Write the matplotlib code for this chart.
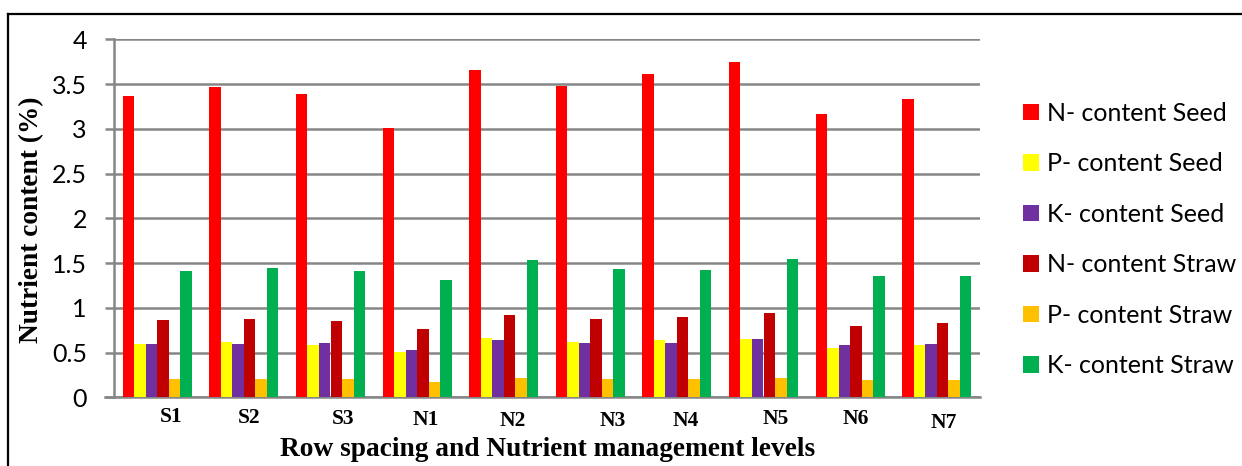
import matplotlib
matplotlib.use("Agg")
import matplotlib.pyplot as plt
import numpy as np
from matplotlib.lines import Line2D
from matplotlib.transforms import blended_transform_factory

# Treatments: row spacing (S) and nutrient management levels (N)
categories = ["S1", "S2", "S3", "N1", "N2", "N3", "N4", "N5", "N6", "N7"]

series_names = [
    "N- content Seed",
    "P- content Seed",
    "K- content Seed",
    "N- content Straw",
    "P- content Straw",
    "K- content Straw",
]

n_seed = [3.37, 3.47, 3.39, 3.01, 3.66, 3.48, 3.61, 3.75, 3.16, 3.33]
p_seed = [0.60, 0.62, 0.58, 0.51, 0.66, 0.62, 0.64, 0.65, 0.55, 0.58]
k_seed = [0.60, 0.60, 0.61, 0.53, 0.64, 0.61, 0.61, 0.65, 0.58, 0.59]
n_straw = [0.86, 0.87, 0.85, 0.76, 0.92, 0.88, 0.90, 0.94, 0.80, 0.83]
p_straw = [0.20, 0.21, 0.20, 0.17, 0.22, 0.20, 0.21, 0.22, 0.19, 0.19]
k_straw = [1.41, 1.45, 1.41, 1.31, 1.53, 1.43, 1.42, 1.55, 1.36, 1.36]

y_ticks = [0, 0.5, 1, 1.5, 2, 2.5, 3, 3.5, 4]
y_tick_labels = ["0", "0.5", "1", "1.5", "2", "2.5", "3", "3.5", "4"]

colors = ["#FF0000", "#FFFF00", "#7030A0", "#C00000", "#FFC000", "#00B050"]

# Hand-placed category labels: horizontal shift (data units) and drop below axis (px)
label_dx = [0.16, 0.06, 0.14, 0.10, 0.10, 0.26, 0.10, 0.14, 0.06, 0.08]
label_drop = [20, 21, 22, 23, 24, 24, 24, 22, 22, 26]

W, H = 1242, 466
fig = plt.figure(figsize=(W / 100, H / 100), dpi=100)
ax = fig.add_axes([114 / W, 1 - 397.3 / H, (980 - 114) / W, (397.3 - 39.3) / H])

values = [n_seed, p_seed, k_seed, n_straw, p_straw, k_straw]
x = np.arange(len(categories)) + 0.5
bw = 0.797 / 6
handles = []
for k, (vals, col, name) in enumerate(zip(values, colors, series_names)):
    b = ax.bar(x + (k - 2.5) * bw, vals, width=bw, color=col, edgecolor="none",
               label=name, zorder=3)
    handles.append(b)

ax.set_xlim(0, len(categories))
ax.set_ylim(0, 4)

grid_col = "#868686"
lw = 1.8
ax.set_yticks(y_ticks)
ax.set_yticklabels(y_tick_labels, fontfamily="Lato", fontsize=18)
ax.yaxis.grid(True, color=grid_col, linewidth=lw, zorder=0)
ax.set_axisbelow(True)
ax.tick_params(axis="y", length=6.5, width=lw, color=grid_col, pad=13)
ax.set_xticks([])
for s in ["top", "right"]:
    ax.spines[s].set_visible(False)
for s in ["left", "bottom"]:
    ax.spines[s].set_color(grid_col)
    ax.spines[s].set_linewidth(lw)
    ax.spines[s].set_zorder(1)

# Bottom line continues left under the tick marks
ax.plot([-0.104, 0], [0, 0], color=grid_col, lw=lw, clip_on=False, zorder=1)

trans = blended_transform_factory(ax.transData, ax.transAxes)
for i, lab in enumerate(categories):
    ax.text(x[i] + label_dx[i], -label_drop[i] / 358.0, lab, transform=trans,
            ha="center", va="center", fontfamily="Liberation Serif",
            fontweight="bold", fontsize=15.5)

fig.text(548 / W, 1 - 449 / H, "Row spacing and Nutrient management levels",
         ha="center", va="center", fontfamily="Liberation Serif",
         fontweight="bold", fontsize=19.7)
fig.text(32 / W, 1 - 219.5 / H, "Nutrient content (%)", rotation=90,
         ha="center", va="center", fontfamily="Liberation Serif",
         fontweight="bold", fontsize=19.7)

leg = fig.legend(handles=handles, loc="center left",
                 bbox_to_anchor=(1023 / W, 1 - 239.5 / H),
                 frameon=False, borderpad=0, borderaxespad=0,
                 handlelength=0.64, handleheight=0.64, handletextpad=0.32,
                 labelspacing=1.1, prop={"family": "Lato", "size": 18})

# Outer chart border
fig.add_artist(Line2D([7.5 / W, 1], [1 - 13.5 / H, 1 - 13.5 / H],
                      color="black", lw=1.6, transform=fig.transFigure))
fig.add_artist(Line2D([7.5 / W, 7.5 / W], [0, 1 - 13.5 / H],
                      color="black", lw=1.6, transform=fig.transFigure))

fig.savefig("out.png", dpi=100)
